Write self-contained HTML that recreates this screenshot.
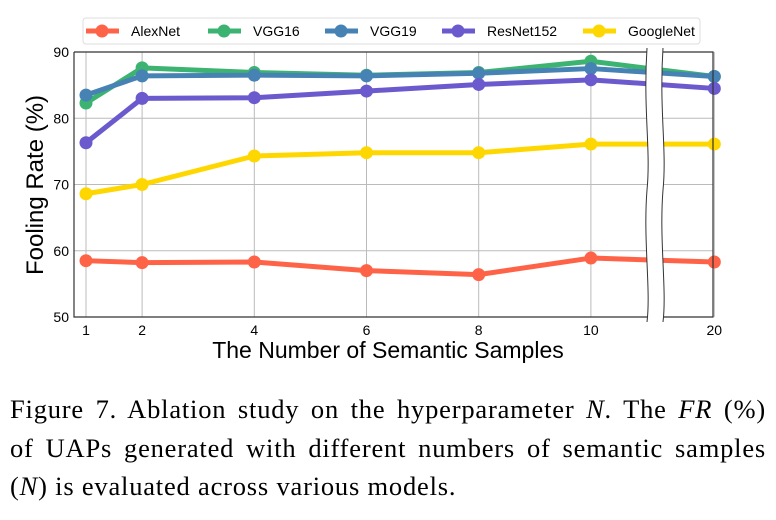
<!DOCTYPE html>
<html><head><meta charset="utf-8"><style>
body{margin:0;background:#fff;width:776px;height:520px;overflow:hidden}
svg{position:absolute;left:0;top:0}
.cap{position:absolute;left:10px;top:390px;width:756px;font-family:"Liberation Serif",serif;font-size:26.5px;letter-spacing:0.8px;line-height:38.5px;color:#000}
.cap div{text-align:justify;text-align-last:justify;white-space:nowrap}
.cap div.last{text-align-last:left}
</style></head><body>
<svg id="chart" width="776" height="380"></svg>
<div class="cap">
<div>Figure 7. Ablation study on the hyperparameter <i>N</i>. The <i>FR</i> (%)</div>
<div>of UAPs generated with different numbers of semantic samples</div>
<div class="last">(<i>N</i>) is evaluated across various models.</div>
</div>
<script>
const categories=["1","2","4","6","8","10","20"];
const xPos=[1,2,4,6,8,10,12.2];
const yTicks=[50,60,70,80,90];
const seriesNames=["AlexNet","VGG16","VGG19","ResNet152","GoogleNet"];
const alexnet=[58.5,58.2,58.3,57.0,56.4,58.9,58.3];
const vgg16=[82.3,87.6,86.9,86.5,86.9,88.6,86.3];
const vgg19=[83.5,86.4,86.5,86.4,86.8,87.5,86.3];
const resnet152=[76.3,83.0,83.1,84.1,85.1,85.8,84.5];
const googlenet=[68.6,70.0,74.3,74.8,74.8,76.1,76.1];
const colors=["#ff6347","#3cb371","#4682b4","#6a5acd","#ffd700"];
const allSeries=[alexnet,vgg16,vgg19,resnet152,googlenet];
const L=74,R=713,T=52,B=317;
const X=v=>86+(v-1)*56.1;
const Y=v=>B-(v-50)*(B-T)/40;
const svg=document.getElementById('chart');
const NS="http://www.w3.org/2000/svg";
function mk(t,a){const e=document.createElementNS(NS,t);for(const k in a)e.setAttribute(k,a[k]);svg.appendChild(e);return e;}
yTicks.forEach(t=>{
 const g=mk('line',{x1:L,x2:R,y1:Y(t),y2:Y(t),stroke:'#bbb','stroke-width':1});
 
 
 const tx=mk('text',{x:L-5,y:Y(t)+5,'text-anchor':'end','font-family':'Liberation Sans Narrow, Liberation Sans, sans-serif','font-size':14});
 tx.textContent=t;
 
 
});
categories.forEach((c,i)=>{
 const g=mk('line',{x1:X(xPos[i]),x2:X(xPos[i]),y1:T,y2:B,stroke:'#bbb','stroke-width':1});
 
 
 const tx=mk('text',{x:X(xPos[i]),y:B+18,'text-anchor':'middle','font-family':'Liberation Sans Narrow, Liberation Sans, sans-serif','font-size':14});
 tx.textContent=c;
 
 
});
allSeries.forEach((s,si)=>{
 const pts=s.map((v,i)=>X(xPos[i])+','+Y(v)).join(' ');
 const pl=mk('polyline',{points:pts,fill:'none',stroke:colors[si],'stroke-width':5,'stroke-linejoin':'round'});
 
 
 s.forEach((v,i)=>{
  const c=mk('circle',{cx:X(xPos[i]),cy:Y(v),r:6.5,fill:colors[si]});
  
  
 });
});
const ax=mk('path',{d:`M${L},${T}V${B}H${R}V${T}H${L}`,fill:'none',stroke:'#333','stroke-width':1.2});


const br=mk('path',{d:'M647,48 C643,110 651,150 647,190 C643,240 651,290 647,322 L663,322 C667,290 659,240 663,190 C667,150 659,110 663,48 Z',fill:'#fff',stroke:'none'});


['M647,48 C643,110 651,150 647,190 C643,240 651,290 647,322','M663,48 C659,110 667,150 663,190 C659,240 667,290 663,322'].forEach(d=>{
 const p=mk('path',{d:d,fill:'none',stroke:'#333','stroke-width':1});
 
 
});
const yl=mk('text',{x:0,y:0,transform:'translate(43,185) rotate(-90)','text-anchor':'middle','font-family':'Liberation Sans, sans-serif','font-size':24});
yl.textContent='Fooling Rate (%)';


const xl=mk('text',{x:388,y:358,'text-anchor':'middle','font-family':'Liberation Sans Narrow, Liberation Sans, sans-serif','font-size':23});
xl.textContent='The Number of Semantic Samples';


const lb=mk('rect',{x:83,y:18,width:617,height:26,rx:3,fill:'#fff',stroke:'#ddd'});


const lx=[86,208,325,442,583];
seriesNames.forEach((n,i)=>{
 const l=mk('line',{x1:lx[i],x2:lx[i]+33,y1:31,y2:31,stroke:colors[i],'stroke-width':5});
 
 
 const c=mk('circle',{cx:lx[i]+16,cy:31,r:6.5,fill:colors[i]});
 
 
 const t=mk('text',{x:lx[i]+45,y:36,'font-family':'Liberation Sans, sans-serif','font-size':14});
 t.textContent=n;
 
 
});
</script>
</body></html>
